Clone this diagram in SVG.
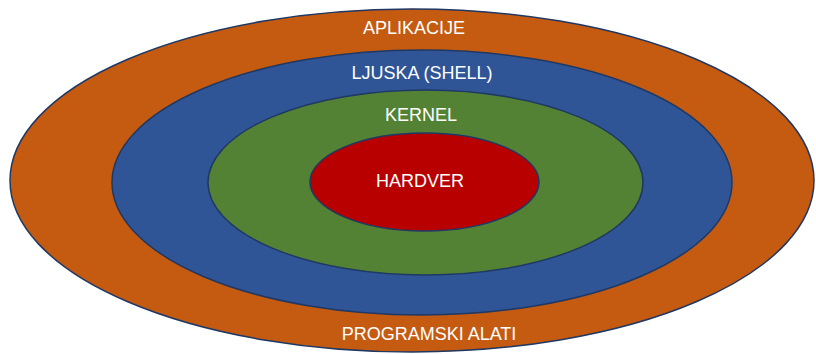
<svg xmlns="http://www.w3.org/2000/svg" width="816" height="354" viewBox="0 0 816 354">
<style>
.layer{stroke:#1F3864;stroke-width:1.5}
.lbl{font-family:"Liberation Sans",Arial,sans-serif;font-size:18px;fill:#FFFFFF;text-anchor:middle}
</style>
<rect width="816" height="354" fill="#FFFFFF"/>
<g id="aplikacije">
<ellipse class="layer" cx="412" cy="180.5" rx="402" ry="171.5" fill="#C55A11"/>
<text class="lbl" x="414" y="34">APLIKACIJE</text>
<text class="lbl" x="429" y="340">PROGRAMSKI ALATI</text>
</g>
<g id="ljuska">
<ellipse class="layer" cx="422" cy="182.5" rx="310" ry="132.5" fill="#2F5597"/>
<text class="lbl" x="422" y="79">LJUSKA (SHELL)</text>
</g>
<g id="kernel">
<ellipse class="layer" cx="425.5" cy="182.5" rx="217.5" ry="92.5" fill="#548235"/>
<text class="lbl" x="421" y="121">KERNEL</text>
</g>
<g id="hardver">
<ellipse class="layer" cx="424.5" cy="182" rx="114.5" ry="49" fill="#B80000"/>
<text class="lbl" x="420" y="187">HARDVER</text>
</g>
<g id="connectors"/>
</svg>
